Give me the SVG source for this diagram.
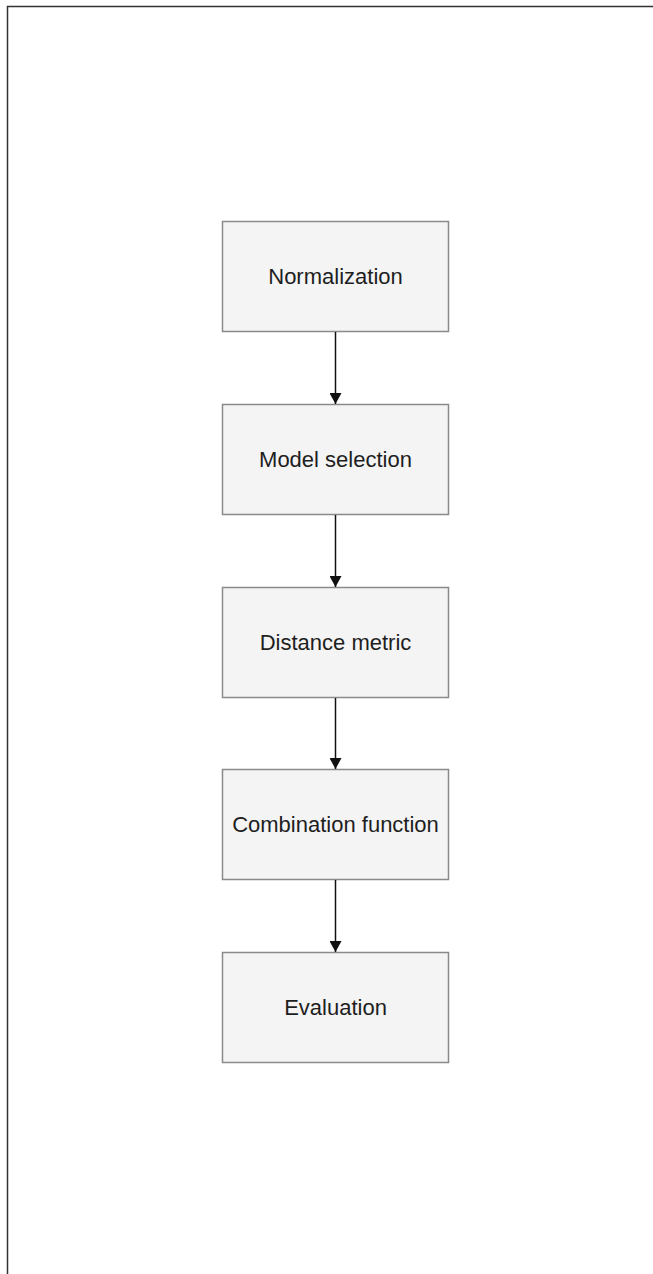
<svg xmlns="http://www.w3.org/2000/svg" width="653" height="1274" viewBox="0 0 653 1274">
<style>
.box{fill:#f4f4f4;stroke:#8a8a8a;stroke-width:1.5}
.lbl{font-family:"Liberation Sans",Arial,sans-serif;font-size:22px;fill:#1e1e1e;text-anchor:middle}
.edge{stroke:#111;stroke-width:1.5;fill:none}
</style>
<defs>
<marker id="arr" markerWidth="12" markerHeight="12" refX="11" refY="6" orient="auto" markerUnits="userSpaceOnUse">
<path d="M0,0 L11,6 L0,12 Z" fill="#111"/>
</marker>
</defs>
<rect width="653" height="1274" fill="#fff"/>
<g id="frame"><path d="M7.5,1274 V6.5 H653" fill="none" stroke="#333" stroke-width="1.5"/></g>
<g id="n1"><rect class="box" x="222.5" y="221.5" width="226" height="110"/><text class="lbl" x="335.5" y="284">Normalization</text></g>
<g id="n2"><rect class="box" x="222.5" y="404.5" width="226" height="110"/><text class="lbl" x="335.5" y="467">Model selection</text></g>
<g id="n3"><rect class="box" x="222.5" y="587.5" width="226" height="110"/><text class="lbl" x="335.5" y="650">Distance metric</text></g>
<g id="n4"><rect class="box" x="222.5" y="769.5" width="226" height="110"/><text class="lbl" x="335.5" y="832">Combination function</text></g>
<g id="n5"><rect class="box" x="222.5" y="952.5" width="226" height="110"/><text class="lbl" x="335.5" y="1015">Evaluation</text></g>
<g id="edges">
<line class="edge" x1="335.5" y1="332" x2="335.5" y2="404" marker-end="url(#arr)"/>
<line class="edge" x1="335.5" y1="515" x2="335.5" y2="587" marker-end="url(#arr)"/>
<line class="edge" x1="335.5" y1="698" x2="335.5" y2="769" marker-end="url(#arr)"/>
<line class="edge" x1="335.5" y1="880" x2="335.5" y2="952" marker-end="url(#arr)"/>
</g>
</svg>
